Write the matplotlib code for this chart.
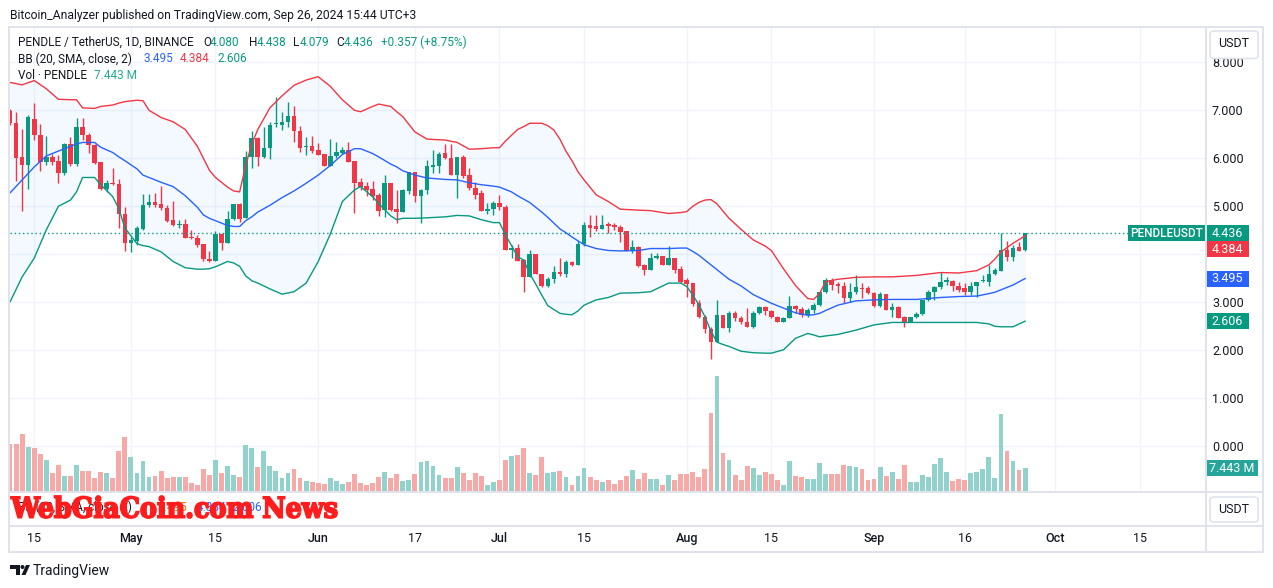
import matplotlib
matplotlib.use("Agg")
import matplotlib.pyplot as plt
import matplotlib.dates as mdates
import matplotlib.transforms as mtrans
from matplotlib.patches import Rectangle, FancyBboxPatch, Polygon, Ellipse, PathPatch
from matplotlib.lines import Line2D
from matplotlib.textpath import TextPath
from matplotlib.font_manager import FontProperties
import numpy as np
import pandas as pd

# ------------------------------------------------------------------ data
start_date = "2024-04-11"
opens = [6.99,6.73,6.03,5.87,6.82,6.49,5.93,6.03,5.95,5.70,6.30,5.89,6.65,6.49,6.28,5.92,5.36,5.48,5.47,4.85,
         4.23,4.28,4.53,5.02,5.08,5.05,4.97,4.71,4.61,4.64,4.35,4.34,4.21,3.91,3.87,4.42,4.24,4.74,5.05,4.76,6.02,6.42,6.02,6.21,6.71,6.70,6.75,6.88,6.57,6.23,6.26,
         6.17,6.08,5.84,6.05,6.11,6.17,5.94,5.51,5.42,5.36,5.24,4.92,5.48,4.94,4.88,5.31,5.72,5.21,5.33,5.81,5.85,6.10,6.01,5.65,6.02,5.65,5.39,5.27,4.91,4.94,
         5.06,4.98,4.08,4.14,3.89,3.52,4.00,3.59,3.33,3.48,3.64,3.59,3.85,3.77,4.22,4.62,4.58,4.52,4.62,4.61,4.57,4.48,4.07,4.15,3.77,3.67,3.93,3.97,3.78,3.92,3.69,
         3.47,3.40,2.98,2.70,2.44,2.18,2.74,2.47,2.77,2.68,2.59,2.49,2.77,2.91,2.82,2.70,2.60,2.68,2.92,2.87,2.74,2.84,2.95,3.21,3.47,3.38,3.34,3.10,3.21,3.30,3.29,
         3.19,2.93,3.17,2.83,2.91,2.69,2.60,2.69,2.75,3.04,3.21,3.31,3.43,3.45,3.34,3.29,3.22,3.34,3.44,3.43,3.59,3.66,4.09,3.94,4.16,4.080]
highs = [7.02,6.97,6.61,6.90,7.15,6.72,6.47,6.10,6.07,6.31,6.45,6.85,6.83,6.52,6.30,5.93,5.55,5.79,5.56,4.99,
         4.37,4.59,5.26,5.26,5.27,5.42,5.03,5.11,4.72,4.73,4.51,4.40,4.22,4.06,4.49,4.44,4.91,5.05,5.06,6.16,6.56,6.45,6.66,6.75,7.27,6.97,7.18,7.08,6.67,6.45,6.47,
         6.31,6.09,6.40,6.33,6.24,6.33,5.94,5.60,5.51,5.53,5.27,5.65,5.48,5.33,5.37,5.72,5.72,5.37,5.97,6.18,6.13,6.29,6.29,6.03,6.07,5.80,5.51,5.34,5.06,5.10,
         5.23,5.03,4.19,4.21,3.91,4.09,4.00,3.59,3.53,3.76,3.92,3.88,3.87,4.28,4.68,4.81,4.81,4.81,4.68,4.65,4.61,4.49,4.30,4.18,3.80,4.02,4.02,3.97,4.17,3.92,3.76,
         3.50,3.41,3.04,2.74,2.49,3.05,2.74,2.81,2.81,2.72,2.88,2.81,2.92,2.92,2.84,2.72,2.70,3.13,2.94,2.91,2.88,2.98,3.22,3.50,3.50,3.43,3.43,3.40,3.57,3.40,3.33,
         3.22,3.22,3.17,2.98,2.92,2.72,2.70,2.79,3.05,3.26,3.33,3.64,3.53,3.47,3.43,3.40,3.43,3.43,3.57,3.78,3.71,4.44,4.28,4.20,4.26,4.438]
lows = [6.70,5.53,4.91,5.37,6.38,5.74,5.86,5.87,5.49,5.65,5.83,5.83,6.38,6.12,5.88,5.33,5.30,5.44,4.54,4.06,
        4.04,4.19,4.51,4.99,4.99,4.92,4.68,4.58,4.55,4.33,4.31,4.16,3.87,3.83,3.87,4.09,4.24,4.72,4.67,4.75,5.80,5.84,6.00,5.99,6.66,6.59,6.66,6.35,6.14,6.07,6.12,
        6.06,5.83,5.83,6.01,6.09,5.92,4.86,5.35,5.22,5.14,4.80,4.78,4.90,4.66,4.88,5.26,5.09,4.66,5.26,5.69,5.69,5.98,5.65,5.18,5.58,5.33,5.15,4.90,4.84,4.82,
        4.92,4.08,3.93,3.85,3.22,3.52,3.59,3.32,3.32,3.41,3.55,3.53,3.76,3.77,4.18,4.37,4.48,4.52,4.44,4.50,4.26,4.06,4.02,3.74,3.56,3.67,3.91,3.77,3.77,3.62,3.40,
        3.12,2.92,2.67,2.36,1.82,2.18,2.46,2.39,2.60,2.55,2.49,2.47,2.76,2.74,2.67,2.58,2.58,2.67,2.77,2.70,2.70,2.77,2.93,3.19,3.26,3.19,2.98,3.01,3.17,3.08,3.17,
        2.91,2.91,2.83,2.69,2.67,2.49,2.58,2.67,2.74,3.02,3.04,3.27,3.36,3.24,3.22,3.15,3.15,3.12,3.43,3.34,3.57,3.66,3.87,3.87,4.06,4.079]
closes = [6.73,6.01,5.87,6.85,6.49,5.93,6.03,5.93,5.70,6.30,5.89,6.65,6.49,6.28,5.90,5.36,5.49,5.46,4.84,4.23,
          4.30,4.55,5.02,5.08,5.03,4.97,4.70,4.61,4.64,4.35,4.33,4.20,3.90,3.86,4.42,4.24,4.74,5.05,4.73,6.02,6.42,6.02,6.21,6.69,6.73,6.76,6.88,6.56,6.22,6.25,6.16,
          6.07,5.84,6.05,6.13,6.17,5.93,5.49,5.41,5.35,5.21,4.91,5.48,4.93,4.88,5.33,5.72,5.21,5.33,5.84,5.85,6.10,6.00,5.65,6.02,5.63,5.38,5.24,4.91,4.94,5.06,
          4.98,4.08,4.14,3.87,3.52,4.00,3.59,3.33,3.48,3.64,3.59,3.85,3.77,4.22,4.62,4.55,4.52,4.62,4.60,4.56,4.47,4.07,4.15,3.76,3.67,3.93,3.97,3.78,3.92,3.67,3.43,
          3.38,2.97,2.69,2.44,2.18,2.74,2.47,2.77,2.67,2.58,2.49,2.77,2.91,2.81,2.70,2.60,2.68,2.92,2.86,2.74,2.84,2.95,3.21,3.47,3.36,3.33,3.10,3.21,3.31,3.28,3.19,
          2.93,3.17,2.83,2.90,2.68,2.60,2.69,2.75,3.04,3.21,3.31,3.42,3.45,3.33,3.26,3.22,3.34,3.43,3.46,3.60,3.67,4.09,3.94,4.13,4.079,4.436]
volumes_m = [15.3,15.3,18.6,14.5,14.1,12.0,10.2,6.0,8.5,4.9,4.9,8.5,6.6,6.6,4.4,6.2,5.8,4.1,13.1,17.7,
             11.2,6.0,9.9,4.6,4.9,6.6,4.4,4.6,4.6,4.6,2.5,2.0,7.3,5.3,10.2,6.0,8.2,5.3,4.6,15.1,14.2,7.9,13.1,8.2,6.6,4.4,6.0,7.3,4.4,3.3,3.1,
             2.7,2.4,4.1,3.3,2.4,3.1,5.7,2.7,2.0,2.7,4.7,6.2,4.1,5.7,3.3,3.7,5.7,9.5,9.9,8.2,5.3,4.4,4.1,7.9,6.0,3.6,6.0,4.9,2.0,3.0,
             3.6,10.2,11.5,11.8,14.2,6.0,5.3,11.2,6.0,6.2,6.6,4.6,2.0,4.9,7.7,4.6,3.6,3.0,3.5,2.2,3.6,4.9,6.9,3.9,5.9,3.9,3.9,2.0,5.3,3.6,5.6,
             5.6,6.2,4.6,7.2,25.7,37.8,12.5,10.2,5.3,3.6,8.2,7.6,5.3,6.2,5.6,3.6,2.0,9.9,4.9,4.6,3.9,3.9,9.2,5.6,5.6,5.6,8.5,8.2,7.9,7.2,3.6,
             3.9,7.9,4.9,6.2,3.9,8.5,3.0,3.0,5.3,4.6,8.9,10.8,6.2,3.3,3.9,3.6,5.9,6.2,7.2,11.2,4.3,25.3,13.1,9.9,6.9,7.443]

bb_dates = ['04-11','04-13','04-15','04-17','04-19','04-21','04-22','04-23','04-25','04-26','04-28','04-29','04-30',
            '05-02','05-03','05-04','05-06','05-08','05-10','05-12','05-13','05-14','05-15','05-17','05-18','05-19','05-20','05-21','05-22','05-24','05-26','05-28','05-30',
            '06-01','06-03','06-05','06-07','06-08','06-10','06-11','06-13','06-14','06-15','06-17','06-19','06-22','06-24','06-26','06-28','06-30',
            '07-01','07-02','07-03','07-04','07-05','07-06','07-07','07-08','07-09','07-10','07-11','07-12','07-13','07-14','07-15','07-17','07-19','07-21','07-24','07-26','07-29','07-31',
            '08-01','08-02','08-03','08-04','08-05','08-06','08-07','08-08','08-10','08-12','08-14','08-15','08-17','08-19','08-21','08-22','08-23','08-24','08-26','08-29',
            '09-01','09-04','09-08','09-12','09-15','09-18','09-20','09-21','09-22','09-24','09-26']
bb_upper = [7.58,7.53,7.62,7.45,7.23,7.22,7.22,7.05,7.04,7.08,7.11,7.15,7.18,
            7.21,7.20,7.00,6.85,6.76,6.60,6.25,6.00,5.75,5.60,5.40,5.32,5.30,5.85,6.30,6.60,7.05,7.30,7.52,7.63,
            7.70,7.50,7.22,7.00,6.97,7.08,7.13,7.08,6.97,6.87,6.55,6.40,6.38,6.33,6.19,6.20,6.22,
            6.22,6.36,6.48,6.60,6.66,6.73,6.73,6.73,6.68,6.59,6.40,6.15,5.95,5.72,5.55,5.24,5.10,4.94,4.92,4.91,4.85,4.87,
            4.89,5.00,5.08,5.13,5.14,5.05,4.90,4.75,4.52,4.30,4.17,4.08,3.70,3.35,3.08,3.06,3.19,3.43,3.48,3.52,
            3.53,3.53,3.56,3.62,3.61,3.66,3.78,3.90,4.05,4.23,4.384]
bb_basis = [5.28,5.55,5.82,6.05,6.15,6.25,6.30,6.33,6.33,6.23,6.12,6.03,5.95,
            5.78,5.65,5.60,5.50,5.41,5.22,4.98,4.82,4.75,4.70,4.60,4.58,4.58,4.70,4.78,4.88,5.02,5.18,5.32,5.48,
            5.65,5.85,6.08,6.20,6.20,6.10,6.03,5.88,5.82,5.74,5.65,5.59,5.56,5.55,5.49,5.45,5.42,
            5.40,5.35,5.30,5.22,5.15,5.08,4.98,4.88,4.77,4.65,4.53,4.45,4.36,4.28,4.20,4.12,4.08,4.07,4.08,4.12,4.12,4.13,
            4.13,4.06,3.98,3.88,3.78,3.68,3.58,3.48,3.34,3.16,3.04,2.98,2.88,2.78,2.73,2.74,2.77,2.83,2.94,3.03,
            3.05,3.06,3.06,3.10,3.12,3.13,3.18,3.21,3.26,3.36,3.495]
bb_lower = [3.01,3.53,3.92,4.51,5.00,5.13,5.30,5.60,5.60,5.45,5.20,4.95,4.55,
            4.22,4.18,4.16,4.05,3.85,3.72,3.69,3.69,3.70,3.74,3.85,3.82,3.75,3.55,3.45,3.40,3.28,3.17,3.22,3.40,
            3.85,4.42,5.10,5.34,5.41,5.20,5.06,4.80,4.72,4.75,4.75,4.76,4.78,4.81,4.80,4.72,4.66,
            4.66,4.40,4.18,3.95,3.88,3.60,3.38,3.15,2.93,2.85,2.77,2.75,2.74,2.82,2.94,3.05,3.10,3.19,3.20,3.22,3.40,3.40,
            3.33,3.15,2.95,2.70,2.40,2.17,2.12,2.08,1.98,1.95,1.94,1.94,2.01,2.25,2.35,2.32,2.28,2.30,2.33,2.42,
            2.53,2.58,2.58,2.58,2.58,2.58,2.55,2.50,2.49,2.49,2.606]

price_ticks = [0, 1, 2, 3, 5, 6, 7, 8]
grid_prices = [0, 1, 2, 3, 4, 5, 6, 7, 8]
time_tick_dates = ['2024-04-15', '2024-05-01', '2024-05-15', '2024-06-01', '2024-06-17', '2024-07-01',
                   '2024-07-15', '2024-08-01', '2024-08-15', '2024-09-01', '2024-09-16', '2024-10-01', '2024-10-15']
time_tick_labels = ['15', 'May', '15', 'Jun', '17', 'Jul', '15', 'Aug', '15', 'Sep', '16', 'Oct', '15']
month_labels = {'May', 'Jun', 'Jul', 'Aug', 'Sep', 'Oct'}

# ------------------------------------------------------------------ style
plt.rcParams['font.family'] = ['Roboto', 'DejaVu Sans']
GREEN = '#089981'
RED = '#f23645'
BLUE = '#2962ff'
DARK = '#131722'
GRID = '#f0f3fa'
BORDER = '#e0e3eb'
VOL_UP = '#92d2cc'
VOL_DN = '#f7a9a7'

W, H = 1273.0, 588.0
def fx(x): return x / W
def fy(y): return 1.0 - y / H

fig = plt.figure(figsize=(W / 100, H / 100), dpi=100)
fig.patch.set_facecolor('white')

L, R, T, B = 10, 1205, 28, 491
rect = [fx(L), fy(B), (R - L) / W, (B - T) / H]
axv = fig.add_axes(rect, zorder=1)
ax = fig.add_axes(rect, zorder=2)
ax.patch.set_alpha(0)

dates = pd.date_range(start_date, periods=len(closes), freq='D')
x = mdates.date2num(dates.to_pydatetime())
o = np.array(opens); h = np.array(highs); lo = np.array(lows); c = np.array(closes)
up = c >= o

ref = mdates.date2num(pd.Timestamp('2024-09-16').to_pydatetime())
px_per_day = 6.042
xlim = (ref - (964.7 - L) / px_per_day, ref + (R - 964.7) / px_per_day)
px_per_unit = 48.0
zero_y = 446.3
ylim = ((zero_y - B) / px_per_unit, (zero_y - T) / px_per_unit)
vol_per_px = volumes_m[-1] / 22.7
vlim = (0, (B - T) * vol_per_px)

tick_x = mdates.date2num(pd.to_datetime(time_tick_dates).to_pydatetime())

# grid (bottom layer)
gtrans = mtrans.blended_transform_factory(axv.transAxes, ax.transData)
for p in grid_prices:
    axv.add_line(Line2D([0, 1], [p, p], transform=gtrans, color=GRID, lw=1.0, zorder=0))
for d in tick_x:
    axv.axvline(d, color=GRID, lw=1.0, zorder=0)

# volume
axv.bar(x, volumes_m, width=0.8, color=np.where(up, VOL_UP, VOL_DN), linewidth=0, zorder=2)

# Bollinger bands
bx = mdates.date2num(pd.to_datetime(['2024-' + d for d in bb_dates]).to_pydatetime())
ax.fill_between(bx, bb_lower, bb_upper, color='#2196f3', alpha=0.05, lw=0, zorder=1)

# candles
ccol = np.where(up, GREEN, RED)
ax.vlines(x, lo, h, colors=ccol, lw=1.0, zorder=3)
body = np.maximum(np.abs(c - o), 0.025)
ax.bar(x, body, bottom=np.minimum(o, c), width=0.76, color=ccol, linewidth=0, zorder=4)

ax.plot(bx, bb_upper, color=RED, lw=1.0, zorder=5)
ax.plot(bx, bb_basis, color=BLUE, lw=1.0, zorder=5)
ax.plot(bx, bb_lower, color=GREEN, lw=1.0, zorder=5)

# last price line
lab_x0 = (1128 - L) / (R - L)
ax.axhline(closes[-1], xmin=0, xmax=lab_x0, color=GREEN, lw=1.0, ls=(0, (1, 2)), zorder=6)

for a in (ax, axv):
    a.set_xlim(*xlim)
    for s in a.spines.values():
        s.set_visible(False)
    a.set_xticks([])
ax.set_ylim(*ylim)
axv.set_ylim(*vlim)
axv.set_yticks([])

ax.yaxis.tick_right()
ax.set_yticks(price_ticks)
ax.set_yticklabels([f'{p:.3f}' for p in price_ticks])
ax.tick_params(axis='y', length=0, pad=5.0, labelsize=9, labelcolor=DARK)

# price axis labels
btrans = mtrans.blended_transform_factory(ax.transAxes, ax.transData)
lab_h = 16 / px_per_unit
def axis_label(a, trans, yv, text, color, wpx, x0=1.0):
    w = wpx / (R - L)
    hh = 16 / px_per_unit if a is ax else 16 * vol_per_px
    a.add_patch(Rectangle((x0, yv - hh / 2), w, hh, transform=trans, facecolor=color,
                          edgecolor='none', clip_on=False, zorder=20))
    a.text(x0 + w / 2, yv, text, transform=trans, ha='center', va='center', color='white',
           fontsize=9, clip_on=False, zorder=21)

y_last = closes[-1]
y_up = min(bb_upper[-1], y_last - lab_h)
axis_label(ax, btrans, y_last, f'{closes[-1]:.3f}', GREEN, 44)
axis_label(ax, btrans, y_up, f'{bb_upper[-1]:.3f}', RED, 44)
axis_label(ax, btrans, bb_basis[-1], f'{bb_basis[-1]:.3f}', BLUE, 44)
axis_label(ax, btrans, bb_lower[-1], f'{bb_lower[-1]:.3f}', GREEN, 44)
w_sym = (R - 1128) / (R - L)
ax.add_patch(Rectangle((lab_x0, y_last - lab_h / 2), w_sym, lab_h, transform=btrans,
                       facecolor=GREEN, edgecolor='none', clip_on=False, zorder=20))
ax.text(lab_x0 + w_sym / 2, y_last, 'PENDLEUSDT', transform=btrans, ha='center', va='center',
        color='white', fontsize=8.5, fontweight='medium', clip_on=False, zorder=21)
vtrans = mtrans.blended_transform_factory(axv.transAxes, axv.transData)
axis_label(axv, vtrans, volumes_m[-1], f'{volumes_m[-1]:.3f} M', '#26a69a', 53)

# time axis labels
ttrans = mtrans.blended_transform_factory(ax.transData, fig.transFigure)
for d, lab in zip(tick_x, time_tick_labels):
    ax.text(d, fy(538.5), lab, transform=ttrans, ha='center', va='center', fontsize=9,
            color=DARK, fontweight='medium' if lab in month_labels else 'normal', clip_on=False)

# frame lines
def fline(xs, ys, lw=1.0, color=BORDER):
    fig.add_artist(Line2D([fx(v) for v in xs], [fy(v) for v in ys], transform=fig.transFigure,
                          color=color, lw=lw, zorder=30))
fline([9, 1263, 1263, 9, 9], [27, 27, 552, 552, 27], lw=1.4)
fline([9, 1263], [491.5, 491.5], lw=1.4)
fline([9, 1263], [525.5, 525.5], lw=1.4)
fline([1205.5, 1205.5], [27, 552], lw=1.4)

# USDT buttons
for (y0, y1) in [(31, 58.5), (497, 522)]:
    fig.add_artist(FancyBboxPatch((fx(1210), fy(y1)), fx(48), (y1 - y0) / H,
                                  boxstyle='round,pad=0,rounding_size=0.004', transform=fig.transFigure,
                                  facecolor='white', edgecolor=BORDER, lw=1.2, zorder=40))
    fig.text(fx(1234), fy((y0 + min(y1, y0 + 25)) / 2), 'USDT', ha='center', va='center',
             fontsize=9, color=DARK, zorder=41)

# title
fig.text(fx(10), fy(15), 'Bitcoin_Analyzer published on TradingView.com, Sep 26, 2024 15:44 UTC+3',
         ha='left', va='center', fontsize=8.7, color=DARK)

# legends
LEG_FS = 8.5
chg = closes[-1] - closes[-2]
pct = chg / closes[-2] * 100
line1 = [('PENDLE / TetherUS, 1D, BINANCE', 18, DARK), ('O', 203, DARK), (f'{opens[-1]:.3f}', 210, GREEN),
         ('H', 249, DARK), (f'{highs[-1]:.3f}', 257, GREEN), ('L', 293, DARK), (f'{lows[-1]:.3f}', 300, GREEN),
         ('C', 336, DARK), (f'{closes[-1]:.3f}', 344, GREEN), (f'+{chg:.3f} (+{pct:.2f}%)', 381, GREEN)]
line2 = [('BB (20, SMA, close, 2)', 18, DARK), (f'{bb_basis[-1]:.3f}', 143, BLUE),
         (f'{bb_upper[-1]:.3f}', 180, RED), (f'{bb_lower[-1]:.3f}', 217, GREEN)]
line3 = [('Vol · PENDLE', 18, DARK), (f'{volumes_m[-1]:.3f} M', 94, '#22ab94')]
for row, yy in [(line1, 42.5), (line2, 59), (line3, 75.5)]:
    for s, xx, col in row:
        fig.text(fx(xx), fy(yy), s, ha='left', va='center', fontsize=LEG_FS, color=col, zorder=35)

# faint lower-pane legend
for s, xx, col in [('BB (20, SMA, close, 2)', 18, DARK), (f'{bb_basis[-1]:.3f}', 158, '#ff6d00'),
                   (f'{bb_upper[-1]:.3f}', 197, BLUE), (f'{bb_lower[-1]:.3f}', 232, BLUE)]:
    fig.text(fx(xx), fy(507.5), s, ha='left', va='center', fontsize=LEG_FS, color=col, zorder=35)

# watermark
tp = TextPath((0, 0), 'WebGiaCoin.com News', size=10, prop=FontProperties(family='DejaVu Serif', weight='bold'))
ext = tp.get_extents()
sx = (337 - 11) / ext.width
sy = (518 - 496) / ext.height
wt = mtrans.Affine2D().translate(-ext.x0, -ext.y0).scale(sx / W, sy / H).translate(fx(11), fy(518)) + fig.transFigure
fig.add_artist(PathPatch(tp, transform=wt, facecolor='#ff1c1c', edgecolor='#ff1c1c', lw=1.3,
                         joinstyle='miter', zorder=50))

# TradingView footer logo
def fpoly(pts, **kw):
    fig.add_artist(Polygon([(fx(a), fy(b)) for a, b in pts], closed=True, transform=fig.transFigure, **kw))
fpoly([(10, 565), (20, 565), (20, 575), (15.5, 575), (15.5, 569), (10, 569)], facecolor=DARK, edgecolor='none')
fig.add_artist(Ellipse((fx(22.5), fy(567)), 4 / W, 4 / H, transform=fig.transFigure, facecolor=DARK, edgecolor='none'))
fpoly([(21.5, 575), (26, 565), (30, 565), (25.5, 575)], facecolor=DARK, edgecolor='none')
fig.text(fx(33), fy(571), 'TradingView', ha='left', va='center', fontsize=10, color=DARK)

fig.savefig('out.png', dpi=100, facecolor='white')
